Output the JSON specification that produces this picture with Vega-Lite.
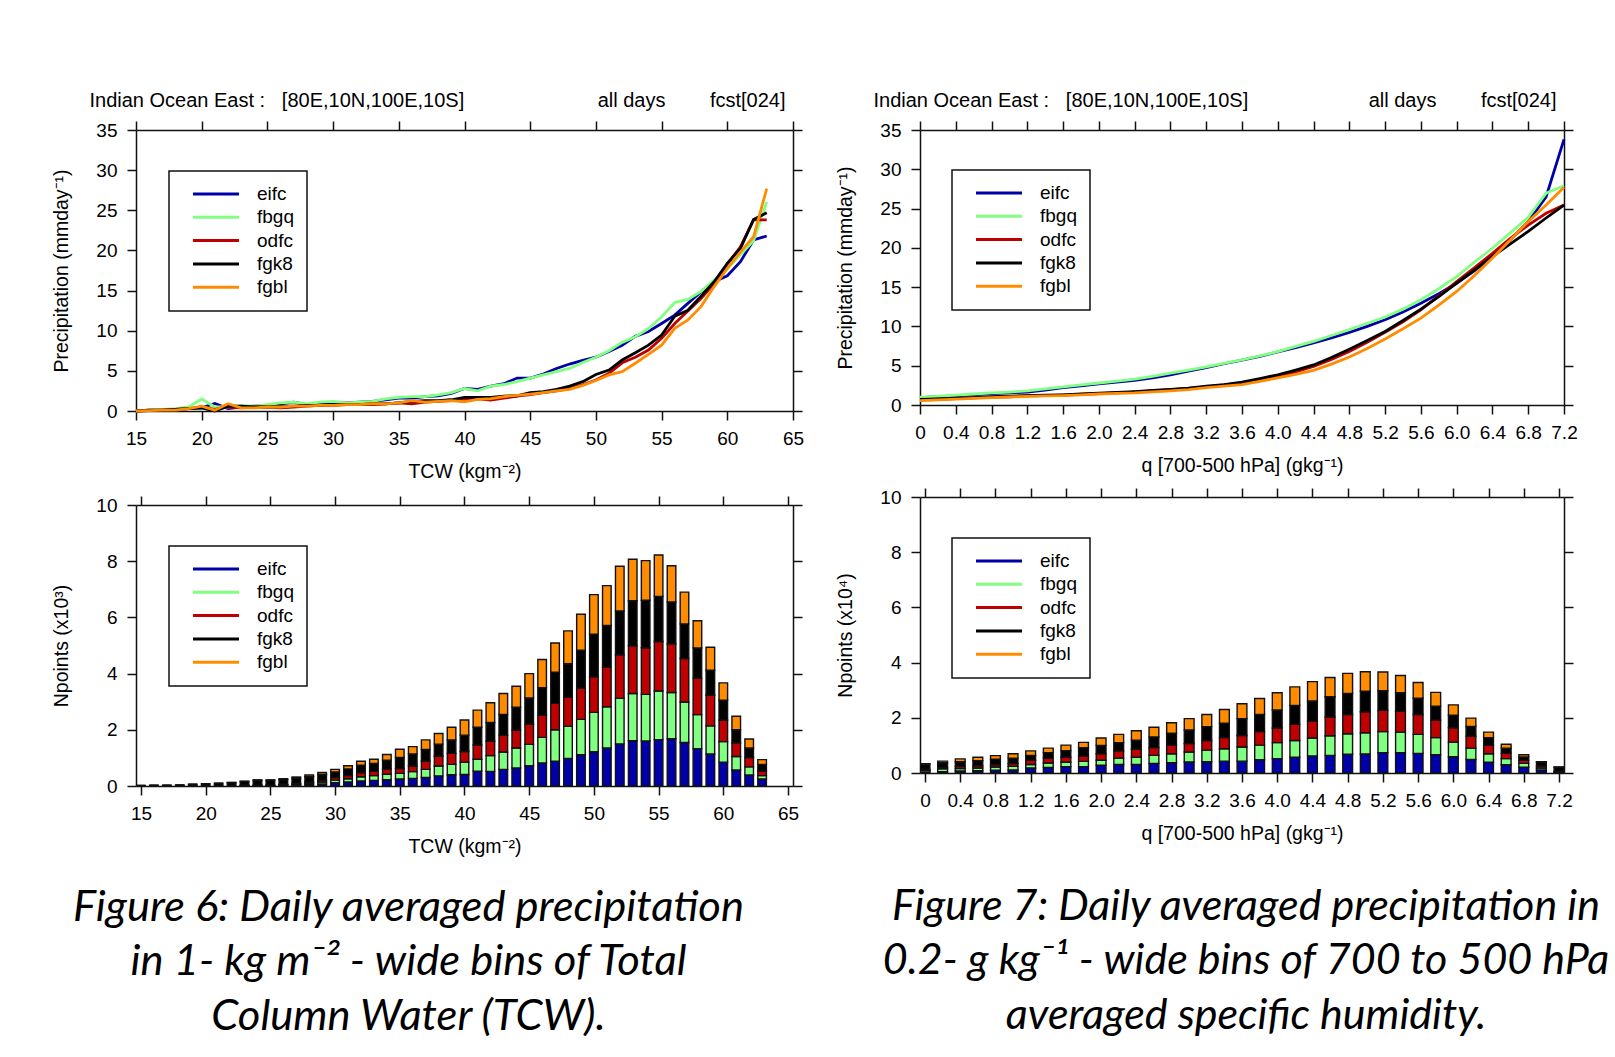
{
  "$schema": "https://vega.github.io/schema/vega-lite/v6.json",
  "background": "white",
  "padding": {"left": 51, "top": 90, "right": 0, "bottom": 0},
  "config": {
    "font": "Liberation Sans",
    "view": {"stroke": null},
    "axis": {"domainColor": "#111", "domainWidth": 1.5, "tickColor": "#111", "tickWidth": 1.5, "tickSize": 9, "labelFontSize": 19, "labelColor": "#000", "titleFontSize": 19.5, "titleFontWeight": "normal", "titleColor": "#000", "grid": false, "labelFont": "Liberation Sans", "titleFont": "Liberation Sans", "labelOverlap": false},
    "axisX": {"labelPadding": 9, "titlePadding": 14, "labelFlush": false},
    "axisY": {"labelPadding": 10, "titlePadding": 24},
    "legend": {"orient": "none", "direction": "vertical", "padding": 13, "strokeColor": "#111", "strokeWidth": 1.5, "fillColor": "white", "symbolSize": 289, "symbolStrokeWidth": 3, "symbolOffset": 24, "labelOffset": 31, "rowPadding": 3.3, "labelFontSize": 19, "labelFont": "Liberation Sans", "labelColor": "#000", "symbolOpacity": 1}
  },
  "datasets": {
    "ord": [{"s": "eifc", "o": 1}, {"s": "fbgq", "o": 2}, {"s": "odfc", "o": 3}, {"s": "fgk8", "o": 4}, {"s": "fgbl", "o": 5}],
    "tcwLine": [
      {"x": 15, "eifc": 0.0, "fbgq": 0.0, "odfc": 0.0, "fgk8": 0.0, "fgbl": 0.0},
      {"x": 16, "eifc": 0.05, "fbgq": 0.1, "odfc": 0.1, "fgk8": 0.1, "fgbl": 0.05},
      {"x": 17, "eifc": 0.1, "fbgq": 0.2, "odfc": 0.1, "fgk8": 0.1, "fgbl": 0.1},
      {"x": 18, "eifc": 0.2, "fbgq": 0.3, "odfc": 0.2, "fgk8": 0.2, "fgbl": 0.1},
      {"x": 19, "eifc": 0.3, "fbgq": 0.5, "odfc": 0.3, "fgk8": 0.3, "fgbl": 0.3},
      {"x": 20, "eifc": 0.4, "fbgq": 1.5, "odfc": 0.5, "fgk8": 0.4, "fgbl": 0.6},
      {"x": 21, "eifc": 0.95, "fbgq": 0.5, "odfc": 0.2, "fgk8": 0.0, "fgbl": 0.1},
      {"x": 22, "eifc": 0.3, "fbgq": 0.5, "odfc": 0.5, "fgk8": 0.6, "fgbl": 0.9},
      {"x": 23, "eifc": 0.5, "fbgq": 0.7, "odfc": 0.4, "fgk8": 0.6, "fgbl": 0.4},
      {"x": 24, "eifc": 0.6, "fbgq": 0.6, "odfc": 0.5, "fgk8": 0.5, "fgbl": 0.4},
      {"x": 25, "eifc": 0.7, "fbgq": 0.8, "odfc": 0.5, "fgk8": 0.5, "fgbl": 0.5},
      {"x": 26, "eifc": 0.9, "fbgq": 1.0, "odfc": 0.4, "fgk8": 0.6, "fgbl": 0.5},
      {"x": 27, "eifc": 1.1, "fbgq": 1.1, "odfc": 0.5, "fgk8": 0.6, "fgbl": 0.6},
      {"x": 28, "eifc": 0.8, "fbgq": 0.9, "odfc": 0.6, "fgk8": 0.7, "fgbl": 0.6},
      {"x": 29, "eifc": 0.9, "fbgq": 1.1, "odfc": 0.7, "fgk8": 0.7, "fgbl": 0.7},
      {"x": 30, "eifc": 1.0, "fbgq": 1.2, "odfc": 0.7, "fgk8": 0.8, "fgbl": 0.7},
      {"x": 31, "eifc": 1.0, "fbgq": 1.0, "odfc": 0.8, "fgk8": 0.8, "fgbl": 0.8},
      {"x": 32, "eifc": 1.1, "fbgq": 1.1, "odfc": 0.8, "fgk8": 0.8, "fgbl": 0.8},
      {"x": 33, "eifc": 1.2, "fbgq": 1.2, "odfc": 0.8, "fgk8": 0.9, "fgbl": 0.9},
      {"x": 34, "eifc": 1.4, "fbgq": 1.5, "odfc": 0.9, "fgk8": 0.9, "fgbl": 0.9},
      {"x": 35, "eifc": 1.6, "fbgq": 1.7, "odfc": 1.0, "fgk8": 1.0, "fgbl": 1.0},
      {"x": 36, "eifc": 1.6, "fbgq": 1.8, "odfc": 0.9, "fgk8": 1.2, "fgbl": 1.3},
      {"x": 37, "eifc": 1.8, "fbgq": 1.8, "odfc": 1.1, "fgk8": 1.3, "fgbl": 1.1},
      {"x": 38, "eifc": 1.9, "fbgq": 2.0, "odfc": 1.2, "fgk8": 1.3, "fgbl": 1.2},
      {"x": 39, "eifc": 2.2, "fbgq": 2.3, "odfc": 1.3, "fgk8": 1.4, "fgbl": 1.3},
      {"x": 40, "eifc": 2.8, "fbgq": 2.8, "odfc": 1.45, "fgk8": 1.7, "fgbl": 1.15},
      {"x": 41, "eifc": 2.7, "fbgq": 2.5, "odfc": 1.5, "fgk8": 1.7, "fgbl": 1.45},
      {"x": 42, "eifc": 3.1, "fbgq": 3.1, "odfc": 1.35, "fgk8": 1.7, "fgbl": 1.55},
      {"x": 43, "eifc": 3.4, "fbgq": 3.3, "odfc": 1.6, "fgk8": 1.85, "fgbl": 1.8},
      {"x": 44, "eifc": 4.1, "fbgq": 3.65, "odfc": 1.85, "fgk8": 1.9, "fgbl": 1.95},
      {"x": 45, "eifc": 4.1, "fbgq": 4.1, "odfc": 2.05, "fgk8": 2.3, "fgbl": 2.1},
      {"x": 46, "eifc": 4.6, "fbgq": 4.5, "odfc": 2.3, "fgk8": 2.4, "fgbl": 2.3},
      {"x": 47, "eifc": 5.3, "fbgq": 4.9, "odfc": 2.5, "fgk8": 2.7, "fgbl": 2.5},
      {"x": 48, "eifc": 5.85, "fbgq": 5.3, "odfc": 2.8, "fgk8": 3.1, "fgbl": 2.7},
      {"x": 49, "eifc": 6.3, "fbgq": 6.05, "odfc": 3.25, "fgk8": 3.65, "fgbl": 3.2},
      {"x": 50, "eifc": 6.7, "fbgq": 6.7, "odfc": 3.85, "fgk8": 4.55, "fgbl": 3.8},
      {"x": 51, "eifc": 7.4, "fbgq": 7.5, "odfc": 4.7, "fgk8": 5.1, "fgbl": 4.5},
      {"x": 52, "eifc": 8.2, "fbgq": 8.55, "odfc": 6.0, "fgk8": 6.35, "fgbl": 4.9},
      {"x": 53, "eifc": 9.3, "fbgq": 9.25, "odfc": 6.7, "fgk8": 7.25, "fgbl": 5.95},
      {"x": 54, "eifc": 9.9, "fbgq": 10.25, "odfc": 7.6, "fgk8": 8.2, "fgbl": 7.05},
      {"x": 55, "eifc": 10.9, "fbgq": 11.75, "odfc": 9.05, "fgk8": 9.45, "fgbl": 8.2},
      {"x": 56, "eifc": 11.95, "fbgq": 13.5, "odfc": 10.9, "fgk8": 11.8, "fgbl": 10.3},
      {"x": 57, "eifc": 13.4, "fbgq": 13.9, "odfc": 12.45, "fgk8": 12.55, "fgbl": 11.35},
      {"x": 58, "eifc": 14.85, "fbgq": 14.9, "odfc": 14.0, "fgk8": 14.3, "fgbl": 13.0},
      {"x": 59, "eifc": 16.1, "fbgq": 16.3, "odfc": 15.9, "fgk8": 16.1, "fgbl": 15.5},
      {"x": 60, "eifc": 16.85, "fbgq": 17.7, "odfc": 18.3, "fgk8": 18.4, "fgbl": 17.75},
      {"x": 61, "eifc": 18.6, "fbgq": 19.5, "odfc": 20.45, "fgk8": 20.25, "fgbl": 19.8},
      {"x": 62, "eifc": 21.3, "fbgq": 21.2, "odfc": 23.8, "fgk8": 23.85, "fgbl": 21.7},
      {"x": 63, "eifc": 21.8, "fbgq": 26.05, "odfc": 23.8, "fgk8": 24.7, "fgbl": 27.7}
    ],
    "qLine": [
      {"x": 0, "eifc": 0.95, "fbgq": 1.0, "odfc": 0.65, "fgk8": 0.7, "fgbl": 0.55},
      {"x": 0.2, "eifc": 1.05, "fbgq": 1.1, "odfc": 0.7, "fgk8": 0.78, "fgbl": 0.65},
      {"x": 0.4, "eifc": 1.15, "fbgq": 1.25, "odfc": 0.8, "fgk8": 0.85, "fgbl": 0.75},
      {"x": 0.6, "eifc": 1.3, "fbgq": 1.4, "odfc": 0.9, "fgk8": 0.95, "fgbl": 0.85},
      {"x": 0.8, "eifc": 1.45, "fbgq": 1.55, "odfc": 1.0, "fgk8": 1.05, "fgbl": 0.95},
      {"x": 1.0, "eifc": 1.55, "fbgq": 1.65, "odfc": 1.05, "fgk8": 1.12, "fgbl": 1.02},
      {"x": 1.2, "eifc": 1.65, "fbgq": 1.8, "odfc": 1.15, "fgk8": 1.2, "fgbl": 1.1},
      {"x": 1.4, "eifc": 1.9, "fbgq": 2.05, "odfc": 1.2, "fgk8": 1.25, "fgbl": 1.15},
      {"x": 1.6, "eifc": 2.2, "fbgq": 2.3, "odfc": 1.25, "fgk8": 1.3, "fgbl": 1.2},
      {"x": 1.8, "eifc": 2.45, "fbgq": 2.55, "odfc": 1.35, "fgk8": 1.4, "fgbl": 1.3},
      {"x": 2.0, "eifc": 2.7, "fbgq": 2.8, "odfc": 1.45, "fgk8": 1.5, "fgbl": 1.4},
      {"x": 2.2, "eifc": 2.9, "fbgq": 3.05, "odfc": 1.55, "fgk8": 1.6, "fgbl": 1.48},
      {"x": 2.4, "eifc": 3.15, "fbgq": 3.3, "odfc": 1.65, "fgk8": 1.7, "fgbl": 1.55},
      {"x": 2.6, "eifc": 3.45, "fbgq": 3.65, "odfc": 1.8, "fgk8": 1.85, "fgbl": 1.68},
      {"x": 2.8, "eifc": 3.85, "fbgq": 4.05, "odfc": 1.95, "fgk8": 2.0, "fgbl": 1.8},
      {"x": 3.0, "eifc": 4.3, "fbgq": 4.45, "odfc": 2.1, "fgk8": 2.15, "fgbl": 1.95},
      {"x": 3.2, "eifc": 4.75, "fbgq": 4.85, "odfc": 2.3, "fgk8": 2.4, "fgbl": 2.2},
      {"x": 3.4, "eifc": 5.25, "fbgq": 5.3, "odfc": 2.55, "fgk8": 2.6, "fgbl": 2.4},
      {"x": 3.6, "eifc": 5.7, "fbgq": 5.75, "odfc": 2.8, "fgk8": 2.9, "fgbl": 2.6},
      {"x": 3.8, "eifc": 6.2, "fbgq": 6.25, "odfc": 3.2, "fgk8": 3.35, "fgbl": 3.0},
      {"x": 4.0, "eifc": 6.75, "fbgq": 6.8, "odfc": 3.65, "fgk8": 3.85, "fgbl": 3.45},
      {"x": 4.2, "eifc": 7.3, "fbgq": 7.45, "odfc": 4.2, "fgk8": 4.45, "fgbl": 3.9},
      {"x": 4.4, "eifc": 7.9, "fbgq": 8.1, "odfc": 4.9, "fgk8": 5.1, "fgbl": 4.4},
      {"x": 4.6, "eifc": 8.55, "fbgq": 8.85, "odfc": 5.8, "fgk8": 6.05, "fgbl": 5.2},
      {"x": 4.8, "eifc": 9.25, "fbgq": 9.6, "odfc": 6.8, "fgk8": 7.1, "fgbl": 6.1},
      {"x": 5.0, "eifc": 10.0, "fbgq": 10.4, "odfc": 8.0, "fgk8": 8.2, "fgbl": 7.2},
      {"x": 5.2, "eifc": 10.85, "fbgq": 11.2, "odfc": 9.25, "fgk8": 9.35, "fgbl": 8.4},
      {"x": 5.4, "eifc": 11.85, "fbgq": 12.2, "odfc": 10.6, "fgk8": 10.75, "fgbl": 9.7},
      {"x": 5.6, "eifc": 12.95, "fbgq": 13.4, "odfc": 12.1, "fgk8": 12.2, "fgbl": 11.05},
      {"x": 5.8, "eifc": 14.15, "fbgq": 14.8, "odfc": 13.9, "fgk8": 13.8, "fgbl": 12.7},
      {"x": 6.0, "eifc": 15.5, "fbgq": 16.35, "odfc": 15.7, "fgk8": 15.5, "fgbl": 14.45},
      {"x": 6.2, "eifc": 17.1, "fbgq": 18.2, "odfc": 17.5, "fgk8": 17.2, "fgbl": 16.5},
      {"x": 6.4, "eifc": 18.9, "fbgq": 19.95, "odfc": 19.3, "fgk8": 18.9, "fgbl": 18.7},
      {"x": 6.6, "eifc": 21.0, "fbgq": 21.9, "odfc": 21.2, "fgk8": 20.5, "fgbl": 21.0},
      {"x": 6.8, "eifc": 23.35, "fbgq": 23.9, "odfc": 22.9, "fgk8": 22.1, "fgbl": 23.35},
      {"x": 7.0, "eifc": 26.5, "fbgq": 26.95, "odfc": 24.4, "fgk8": 23.8, "fgbl": 25.45},
      {"x": 7.2, "eifc": 33.8, "fbgq": 27.9, "odfc": 25.45, "fgk8": 25.45, "fgbl": 27.7}
    ],
    "tcwBar": [
      {"x": 15, "eifc": 0, "fbgq": 0, "odfc": 0, "fgk8": 0.02, "fgbl": 0},
      {"x": 16, "eifc": 0, "fbgq": 0, "odfc": 0, "fgk8": 0.03, "fgbl": 0},
      {"x": 17, "eifc": 0, "fbgq": 0, "odfc": 0, "fgk8": 0.03, "fgbl": 0},
      {"x": 18, "eifc": 0, "fbgq": 0, "odfc": 0, "fgk8": 0.04, "fgbl": 0},
      {"x": 19, "eifc": 0, "fbgq": 0, "odfc": 0, "fgk8": 0.06, "fgbl": 0},
      {"x": 20, "eifc": 0, "fbgq": 0, "odfc": 0, "fgk8": 0.08, "fgbl": 0},
      {"x": 21, "eifc": 0, "fbgq": 0, "odfc": 0, "fgk8": 0.10, "fgbl": 0},
      {"x": 22, "eifc": 0, "fbgq": 0, "odfc": 0, "fgk8": 0.12, "fgbl": 0.01},
      {"x": 23, "eifc": 0.01, "fbgq": 0.01, "odfc": 0.01, "fgk8": 0.13, "fgbl": 0.01},
      {"x": 24, "eifc": 0.01, "fbgq": 0.01, "odfc": 0.01, "fgk8": 0.17, "fgbl": 0.02},
      {"x": 25, "eifc": 0.01, "fbgq": 0.01, "odfc": 0.01, "fgk8": 0.17, "fgbl": 0.02},
      {"x": 26, "eifc": 0.02, "fbgq": 0.02, "odfc": 0.02, "fgk8": 0.17, "fgbl": 0.03},
      {"x": 27, "eifc": 0.03, "fbgq": 0.03, "odfc": 0.03, "fgk8": 0.19, "fgbl": 0.04},
      {"x": 28, "eifc": 0.05, "fbgq": 0.05, "odfc": 0.04, "fgk8": 0.19, "fgbl": 0.06},
      {"x": 29, "eifc": 0.07, "fbgq": 0.07, "odfc": 0.06, "fgk8": 0.21, "fgbl": 0.07},
      {"x": 30, "eifc": 0.12, "fbgq": 0.09, "odfc": 0.09, "fgk8": 0.20, "fgbl": 0.09},
      {"x": 31, "eifc": 0.14, "fbgq": 0.12, "odfc": 0.11, "fgk8": 0.24, "fgbl": 0.11},
      {"x": 32, "eifc": 0.18, "fbgq": 0.15, "odfc": 0.14, "fgk8": 0.27, "fgbl": 0.14},
      {"x": 33, "eifc": 0.20, "fbgq": 0.17, "odfc": 0.15, "fgk8": 0.28, "fgbl": 0.15},
      {"x": 34, "eifc": 0.22, "fbgq": 0.20, "odfc": 0.18, "fgk8": 0.32, "fgbl": 0.20},
      {"x": 35, "eifc": 0.25, "fbgq": 0.20, "odfc": 0.17, "fgk8": 0.40, "fgbl": 0.29},
      {"x": 36, "eifc": 0.27, "fbgq": 0.24, "odfc": 0.20, "fgk8": 0.43, "fgbl": 0.26},
      {"x": 37, "eifc": 0.30, "fbgq": 0.29, "odfc": 0.30, "fgk8": 0.41, "fgbl": 0.34},
      {"x": 38, "eifc": 0.36, "fbgq": 0.35, "odfc": 0.36, "fgk8": 0.42, "fgbl": 0.38},
      {"x": 39, "eifc": 0.40, "fbgq": 0.37, "odfc": 0.39, "fgk8": 0.48, "fgbl": 0.45},
      {"x": 40, "eifc": 0.41, "fbgq": 0.44, "odfc": 0.38, "fgk8": 0.58, "fgbl": 0.54},
      {"x": 41, "eifc": 0.53, "fbgq": 0.42, "odfc": 0.51, "fgk8": 0.63, "fgbl": 0.61},
      {"x": 42, "eifc": 0.52, "fbgq": 0.56, "odfc": 0.51, "fgk8": 0.67, "fgbl": 0.70},
      {"x": 43, "eifc": 0.59, "fbgq": 0.62, "odfc": 0.60, "fgk8": 0.74, "fgbl": 0.74},
      {"x": 44, "eifc": 0.64, "fbgq": 0.71, "odfc": 0.64, "fgk8": 0.81, "fgbl": 0.75},
      {"x": 45, "eifc": 0.72, "fbgq": 0.76, "odfc": 0.72, "fgk8": 0.93, "fgbl": 0.87},
      {"x": 46, "eifc": 0.82, "fbgq": 0.91, "odfc": 0.79, "fgk8": 0.98, "fgbl": 1.00},
      {"x": 47, "eifc": 0.88, "fbgq": 1.12, "odfc": 0.94, "fgk8": 1.11, "fgbl": 1.04},
      {"x": 48, "eifc": 0.98, "fbgq": 1.15, "odfc": 1.03, "fgk8": 1.19, "fgbl": 1.17},
      {"x": 49, "eifc": 1.11, "fbgq": 1.26, "odfc": 1.11, "fgk8": 1.35, "fgbl": 1.28},
      {"x": 50, "eifc": 1.22, "fbgq": 1.40, "odfc": 1.27, "fgk8": 1.51, "fgbl": 1.41},
      {"x": 51, "eifc": 1.35, "fbgq": 1.47, "odfc": 1.41, "fgk8": 1.48, "fgbl": 1.42},
      {"x": 52, "eifc": 1.50, "fbgq": 1.62, "odfc": 1.55, "fgk8": 1.56, "fgbl": 1.59},
      {"x": 53, "eifc": 1.61, "fbgq": 1.68, "odfc": 1.70, "fgk8": 1.60, "fgbl": 1.48},
      {"x": 54, "eifc": 1.60, "fbgq": 1.66, "odfc": 1.66, "fgk8": 1.69, "fgbl": 1.41},
      {"x": 55, "eifc": 1.65, "fbgq": 1.73, "odfc": 1.76, "fgk8": 1.61, "fgbl": 1.47},
      {"x": 56, "eifc": 1.68, "fbgq": 1.65, "odfc": 1.73, "fgk8": 1.49, "fgbl": 1.29},
      {"x": 57, "eifc": 1.55, "fbgq": 1.44, "odfc": 1.55, "fgk8": 1.23, "fgbl": 1.13},
      {"x": 58, "eifc": 1.33, "fbgq": 1.21, "odfc": 1.30, "fgk8": 1.07, "fgbl": 0.97},
      {"x": 59, "eifc": 1.14, "fbgq": 1.00, "odfc": 1.09, "fgk8": 0.89, "fgbl": 0.82},
      {"x": 60, "eifc": 0.85, "fbgq": 0.73, "odfc": 0.77, "fgk8": 0.70, "fgbl": 0.62},
      {"x": 61, "eifc": 0.57, "fbgq": 0.48, "odfc": 0.49, "fgk8": 0.46, "fgbl": 0.48},
      {"x": 62, "eifc": 0.39, "fbgq": 0.29, "odfc": 0.33, "fgk8": 0.34, "fgbl": 0.32},
      {"x": 63, "eifc": 0.25, "fbgq": 0.12, "odfc": 0.16, "fgk8": 0.24, "fgbl": 0.17}
    ],
    "qBar": [
      {"x": 0, "eifc": 0.04, "fbgq": 0.06, "odfc": 0.04, "fgk8": 0.18, "fgbl": 0.02},
      {"x": 0.2, "eifc": 0.05, "fbgq": 0.10, "odfc": 0.05, "fgk8": 0.17, "fgbl": 0.06},
      {"x": 0.4, "eifc": 0.07, "fbgq": 0.09, "odfc": 0.07, "fgk8": 0.18, "fgbl": 0.10},
      {"x": 0.6, "eifc": 0.08, "fbgq": 0.10, "odfc": 0.08, "fgk8": 0.19, "fgbl": 0.12},
      {"x": 0.8, "eifc": 0.10, "fbgq": 0.12, "odfc": 0.08, "fgk8": 0.20, "fgbl": 0.13},
      {"x": 1.0, "eifc": 0.11, "fbgq": 0.13, "odfc": 0.10, "fgk8": 0.20, "fgbl": 0.16},
      {"x": 1.2, "eifc": 0.18, "fbgq": 0.13, "odfc": 0.15, "fgk8": 0.18, "fgbl": 0.16},
      {"x": 1.4, "eifc": 0.20, "fbgq": 0.16, "odfc": 0.18, "fgk8": 0.20, "fgbl": 0.16},
      {"x": 1.6, "eifc": 0.23, "fbgq": 0.16, "odfc": 0.18, "fgk8": 0.24, "fgbl": 0.20},
      {"x": 1.8, "eifc": 0.23, "fbgq": 0.19, "odfc": 0.19, "fgk8": 0.31, "fgbl": 0.19},
      {"x": 2.0, "eifc": 0.28, "fbgq": 0.18, "odfc": 0.24, "fgk8": 0.30, "fgbl": 0.27},
      {"x": 2.2, "eifc": 0.31, "fbgq": 0.23, "odfc": 0.26, "fgk8": 0.30, "fgbl": 0.30},
      {"x": 2.4, "eifc": 0.31, "fbgq": 0.26, "odfc": 0.29, "fgk8": 0.33, "fgbl": 0.34},
      {"x": 2.6, "eifc": 0.35, "fbgq": 0.29, "odfc": 0.28, "fgk8": 0.39, "fgbl": 0.35},
      {"x": 2.8, "eifc": 0.37, "fbgq": 0.33, "odfc": 0.31, "fgk8": 0.43, "fgbl": 0.38},
      {"x": 3.0, "eifc": 0.40, "fbgq": 0.36, "odfc": 0.31, "fgk8": 0.49, "fgbl": 0.41},
      {"x": 3.2, "eifc": 0.41, "fbgq": 0.42, "odfc": 0.35, "fgk8": 0.50, "fgbl": 0.44},
      {"x": 3.4, "eifc": 0.43, "fbgq": 0.45, "odfc": 0.40, "fgk8": 0.52, "fgbl": 0.50},
      {"x": 3.6, "eifc": 0.43, "fbgq": 0.51, "odfc": 0.42, "fgk8": 0.61, "fgbl": 0.54},
      {"x": 3.8, "eifc": 0.48, "fbgq": 0.53, "odfc": 0.49, "fgk8": 0.62, "fgbl": 0.58},
      {"x": 4.0, "eifc": 0.52, "fbgq": 0.58, "odfc": 0.53, "fgk8": 0.65, "fgbl": 0.63},
      {"x": 4.2, "eifc": 0.57, "fbgq": 0.61, "odfc": 0.58, "fgk8": 0.69, "fgbl": 0.67},
      {"x": 4.4, "eifc": 0.62, "fbgq": 0.65, "odfc": 0.61, "fgk8": 0.73, "fgbl": 0.70},
      {"x": 4.6, "eifc": 0.64, "fbgq": 0.71, "odfc": 0.68, "fgk8": 0.73, "fgbl": 0.70},
      {"x": 4.8, "eifc": 0.68, "fbgq": 0.74, "odfc": 0.70, "fgk8": 0.76, "fgbl": 0.73},
      {"x": 5.0, "eifc": 0.69, "fbgq": 0.77, "odfc": 0.76, "fgk8": 0.74, "fgbl": 0.71},
      {"x": 5.2, "eifc": 0.74, "fbgq": 0.76, "odfc": 0.77, "fgk8": 0.71, "fgbl": 0.68},
      {"x": 5.4, "eifc": 0.74, "fbgq": 0.74, "odfc": 0.76, "fgk8": 0.67, "fgbl": 0.62},
      {"x": 5.6, "eifc": 0.71, "fbgq": 0.69, "odfc": 0.72, "fgk8": 0.59, "fgbl": 0.57},
      {"x": 5.8, "eifc": 0.66, "fbgq": 0.62, "odfc": 0.64, "fgk8": 0.50, "fgbl": 0.50},
      {"x": 6.0, "eifc": 0.59, "fbgq": 0.53, "odfc": 0.52, "fgk8": 0.45, "fgbl": 0.38},
      {"x": 6.2, "eifc": 0.49, "fbgq": 0.41, "odfc": 0.43, "fgk8": 0.36, "fgbl": 0.30},
      {"x": 6.4, "eifc": 0.39, "fbgq": 0.31, "odfc": 0.30, "fgk8": 0.28, "fgbl": 0.20},
      {"x": 6.6, "eifc": 0.30, "fbgq": 0.22, "odfc": 0.19, "fgk8": 0.19, "fgbl": 0.14},
      {"x": 6.8, "eifc": 0.21, "fbgq": 0.14, "odfc": 0.11, "fgk8": 0.12, "fgbl": 0.08},
      {"x": 7.0, "eifc": 0.11, "fbgq": 0.07, "odfc": 0.07, "fgk8": 0.15, "fgbl": 0.01},
      {"x": 7.2, "eifc": 0.02, "fbgq": 0.02, "odfc": 0.02, "fgk8": 0.15, "fgbl": 0.01}
    ]
  },
  "spacing": 31,
  "resolve": {"scale": {"color": "independent"}, "legend": {"color": "independent"}},
  "hconcat": [
    {
      "spacing": 94,
      "bounds": "flush",
      "resolve": {"scale": {"color": "independent"}, "legend": {"color": "independent"}},
      "vconcat": [
        {
          "width": 657, "height": 281,
          "data": {"name": "tcwLine"},
          "transform": [{"fold": ["eifc", "fbgq", "odfc", "fgk8", "fgbl"], "as": ["s", "v"]}],
          "layer": [
            {
              "mark": {"type": "line", "strokeWidth": 2.8},
              "encoding": {
                "x": {"field": "x", "type": "quantitative", "scale": {"domain": [15, 65], "nice": false, "zero": false},
                  "axis": {"orient": "bottom", "values": [15, 20, 25, 30, 35, 40, 45, 50, 55, 60, 65], "title": "TCW (kgm⁻²)"}},
                "y": {"field": "v", "type": "quantitative", "scale": {"domain": [0, 35], "nice": false},
                  "axis": {"orient": "left", "values": [0, 5, 10, 15, 20, 25, 30, 35], "title": "Precipitation (mmday⁻¹)"}},
                "color": {"field": "s", "type": "nominal",
                  "scale": {"domain": ["eifc", "fbgq", "odfc", "fgk8", "fgbl"], "range": ["#0000a8", "#80ff80", "#c00000", "#000000", "#ff8c00"]},
                  "legend": {"title": null, "legendX": 33, "legendY": 41, "symbolType": "M-2.706,0H2.706"}}
              }
            },
            {
              "mark": {"type": "point", "opacity": 0},
              "encoding": {
                "x": {"field": "x", "type": "quantitative", "scale": {"domain": [15, 65], "nice": false, "zero": false},
                  "axis": {"orient": "top", "labels": false, "values": [15, 20, 25, 30, 35, 40, 45, 50, 55, 60, 65], "title": "all days\u00a0\u00a0\u00a0\u00a0\u00a0\u00a0\u00a0\u00a0fcst[024]", "titleFontSize": 20, "titleX": 649, "titleY": -24, "titleAlign": "right", "titleBaseline": "alphabetic"}},
                "y": {"field": "v", "type": "quantitative", "scale": {"domain": [0, 35], "nice": false},
                  "axis": {"orient": "right", "labels": false, "values": [0, 5, 10, 15, 20, 25, 30, 35], "title": "Indian Ocean East :\u00a0\u00a0\u00a0[80E,10N,100E,10S]", "titleFontSize": 20, "titleAngle": 0, "titleX": -704, "titleY": -24, "titleAlign": "left", "titleBaseline": "alphabetic"}}
              }
            }
          ],
          "resolve": {"axis": {"x": "independent", "y": "independent"}}
        },
        {
          "width": 657, "height": 281,
          "data": {"name": "tcwBar"},
          "transform": [
            {"fold": ["eifc", "fbgq", "odfc", "fgk8", "fgbl"], "as": ["s", "v"]},
            {"lookup": "s", "from": {"data": {"name": "ord"}, "key": "s", "fields": ["o"]}}
          ],
          "title": {"text": ["Figure 6: Daily averaged precipitation", "in 1- kg m⁻² - wide bins of Total", "Column Water (TCW)."], "orient": "bottom", "anchor": "middle", "frame": "group", "dx": -56, "offset": 31, "font": "Lato", "fontSize": 43.5, "fontStyle": "italic", "fontWeight": "normal", "lineHeight": 54.5, "color": "#000"},
          "layer": [
            {
              "mark": {"type": "bar", "size": 8.6, "stroke": "#111", "strokeWidth": 1.4, "clip": true},
              "encoding": {
                "x": {"field": "x", "type": "quantitative", "scale": {"domain": [15, 65], "nice": false, "zero": false},
                  "axis": {"orient": "bottom", "values": [15, 20, 25, 30, 35, 40, 45, 50, 55, 60, 65], "title": "TCW (kgm⁻²)"}},
                "y": {"field": "v", "type": "quantitative", "stack": "zero", "scale": {"domain": [0, 10], "nice": false},
                  "axis": {"orient": "left", "values": [0, 2, 4, 6, 8, 10], "title": "Npoints (x10³)"}},
                "color": {"field": "s", "type": "nominal",
                  "scale": {"domain": ["eifc", "fbgq", "odfc", "fgk8", "fgbl"], "range": ["#0000a8", "#80ff80", "#c00000", "#000000", "#ff8c00"]},
                  "legend": null},
                "order": {"field": "o", "type": "quantitative", "sort": "ascending"}
              }
            },
            {
              "mark": {"type": "point", "opacity": 0, "filled": false},
              "encoding": {
                "x": {"field": "x", "type": "quantitative", "scale": {"domain": [15, 65], "nice": false, "zero": false},
                  "axis": {"orient": "top", "labels": false, "values": [15, 20, 25, 30, 35, 40, 45, 50, 55, 60, 65], "title": null}},
                "y": {"field": "v", "type": "quantitative", "scale": {"domain": [0, 10], "nice": false},
                  "axis": {"orient": "right", "labels": false, "values": [0, 2, 4, 6, 8, 10], "title": null}},
                "color": {"field": "s", "type": "nominal",
                  "scale": {"domain": ["eifc", "fbgq", "odfc", "fgk8", "fgbl"], "range": ["#0000a8", "#80ff80", "#c00000", "#000000", "#ff8c00"]},
                  "legend": {"title": null, "legendX": 33, "legendY": 41, "symbolType": "M-2.706,0H2.706", "symbolOpacity": 1, "symbolFillColor": "transparent"}}
              }
            }
          ],
          "resolve": {"axis": {"x": "independent", "y": "independent"}, "scale": {"color": "independent"}, "legend": {"color": "independent"}}
        }
      ]
    },
    {
      "spacing": 92,
      "bounds": "flush",
      "resolve": {"scale": {"color": "independent"}, "legend": {"color": "independent"}},
      "vconcat": [
        {
          "width": 644, "height": 275,
          "data": {"name": "qLine"},
          "transform": [{"fold": ["eifc", "fbgq", "odfc", "fgk8", "fgbl"], "as": ["s", "v"]}],
          "layer": [
            {
              "mark": {"type": "line", "strokeWidth": 2.8},
              "encoding": {
                "x": {"field": "x", "type": "quantitative", "scale": {"domain": [0, 7.2], "nice": false, "zero": false},
                  "axis": {"orient": "bottom", "values": [0, 0.4, 0.8, 1.2, 1.6, 2.0, 2.4, 2.8, 3.2, 3.6, 4.0, 4.4, 4.8, 5.2, 5.6, 6.0, 6.4, 6.8, 7.2], "labelExpr": "datum.value == 0 ? '0' : format(datum.value, '.1f')", "title": "q [700-500 hPa] (gkg⁻¹)"}},
                "y": {"field": "v", "type": "quantitative", "scale": {"domain": [0, 35], "nice": false},
                  "axis": {"orient": "left", "values": [0, 5, 10, 15, 20, 25, 30, 35], "title": "Precipitation (mmday⁻¹)"}},
                "color": {"field": "s", "type": "nominal",
                  "scale": {"domain": ["eifc", "fbgq", "odfc", "fgk8", "fgbl"], "range": ["#0000a8", "#80ff80", "#c00000", "#000000", "#ff8c00"]},
                  "legend": {"title": null, "legendX": 32, "legendY": 40, "symbolType": "M-2.706,0H2.706"}}
              }
            },
            {
              "mark": {"type": "point", "opacity": 0},
              "encoding": {
                "x": {"field": "x", "type": "quantitative", "scale": {"domain": [0, 7.2], "nice": false, "zero": false},
                  "axis": {"orient": "top", "labels": false, "values": [0, 0.4, 0.8, 1.2, 1.6, 2.0, 2.4, 2.8, 3.2, 3.6, 4.0, 4.4, 4.8, 5.2, 5.6, 6.0, 6.4, 6.8, 7.2], "title": "all days\u00a0\u00a0\u00a0\u00a0\u00a0\u00a0\u00a0\u00a0fcst[024]", "titleFontSize": 20, "titleX": 636, "titleY": -24, "titleAlign": "right", "titleBaseline": "alphabetic"}},
                "y": {"field": "v", "type": "quantitative", "scale": {"domain": [0, 35], "nice": false},
                  "axis": {"orient": "right", "labels": false, "values": [0, 5, 10, 15, 20, 25, 30, 35], "title": "Indian Ocean East :\u00a0\u00a0\u00a0[80E,10N,100E,10S]", "titleFontSize": 20, "titleAngle": 0, "titleX": -691, "titleY": -24, "titleAlign": "left", "titleBaseline": "alphabetic"}}
              }
            }
          ],
          "resolve": {"axis": {"x": "independent", "y": "independent"}}
        },
        {
          "width": 644, "height": 276,
          "data": {"name": "qBar"},
          "transform": [
            {"fold": ["eifc", "fbgq", "odfc", "fgk8", "fgbl"], "as": ["s", "v"]},
            {"lookup": "s", "from": {"data": {"name": "ord"}, "key": "s", "fields": ["o"]}}
          ],
          "title": {"text": ["Figure 7: Daily averaged precipitation in", "0.2- g kg⁻¹ - wide bins of 700 to 500 hPa", "averaged specific humidity."], "orient": "bottom", "anchor": "middle", "frame": "group", "dx": 4, "offset": 43, "font": "Lato", "fontSize": 43, "fontStyle": "italic", "fontWeight": "normal", "lineHeight": 54.5, "color": "#000"},
          "layer": [
            {
              "mark": {"type": "bar", "size": 9.8, "stroke": "#111", "strokeWidth": 1.4, "clip": true},
              "encoding": {
                "x": {"field": "x", "type": "quantitative", "scale": {"domain": [0, 7.2], "nice": false, "zero": false},
                  "axis": {"orient": "bottom", "values": [0, 0.4, 0.8, 1.2, 1.6, 2.0, 2.4, 2.8, 3.2, 3.6, 4.0, 4.4, 4.8, 5.2, 5.6, 6.0, 6.4, 6.8, 7.2], "labelExpr": "datum.value == 0 ? '0' : format(datum.value, '.1f')", "title": "q [700-500 hPa] (gkg⁻¹)"}},
                "y": {"field": "v", "type": "quantitative", "stack": "zero", "scale": {"domain": [0, 10], "nice": false},
                  "axis": {"orient": "left", "values": [0, 2, 4, 6, 8, 10], "title": "Npoints (x10⁴)"}},
                "color": {"field": "s", "type": "nominal",
                  "scale": {"domain": ["eifc", "fbgq", "odfc", "fgk8", "fgbl"], "range": ["#0000a8", "#80ff80", "#c00000", "#000000", "#ff8c00"]},
                  "legend": null},
                "order": {"field": "o", "type": "quantitative", "sort": "ascending"}
              }
            },
            {
              "mark": {"type": "point", "opacity": 0, "filled": false},
              "encoding": {
                "x": {"field": "x", "type": "quantitative", "scale": {"domain": [0, 7.2], "nice": false, "zero": false},
                  "axis": {"orient": "top", "labels": false, "values": [0, 0.4, 0.8, 1.2, 1.6, 2.0, 2.4, 2.8, 3.2, 3.6, 4.0, 4.4, 4.8, 5.2, 5.6, 6.0, 6.4, 6.8, 7.2], "title": null}},
                "y": {"field": "v", "type": "quantitative", "scale": {"domain": [0, 10], "nice": false},
                  "axis": {"orient": "right", "labels": false, "values": [0, 2, 4, 6, 8, 10], "title": null}},
                "color": {"field": "s", "type": "nominal",
                  "scale": {"domain": ["eifc", "fbgq", "odfc", "fgk8", "fgbl"], "range": ["#0000a8", "#80ff80", "#c00000", "#000000", "#ff8c00"]},
                  "legend": {"title": null, "legendX": 32, "legendY": 41, "symbolType": "M-2.706,0H2.706", "symbolOpacity": 1, "symbolFillColor": "transparent"}}
              }
            }
          ],
          "resolve": {"axis": {"x": "independent", "y": "independent"}, "scale": {"color": "independent"}, "legend": {"color": "independent"}}
        }
      ]
    }
  ]
}
